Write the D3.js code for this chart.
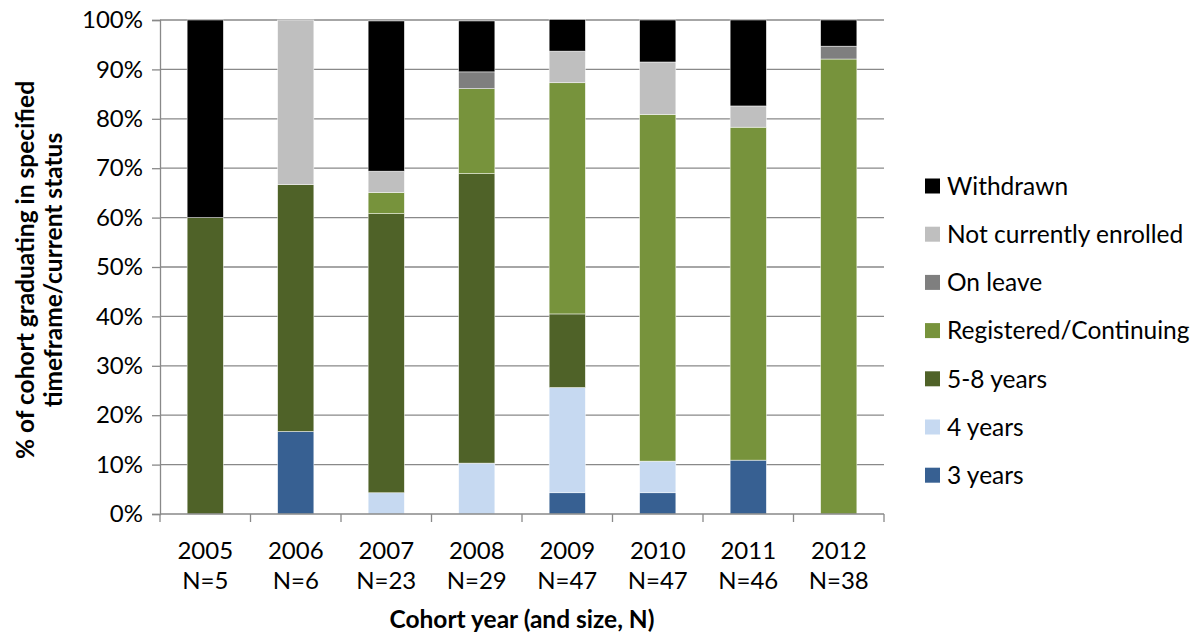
<!DOCTYPE html>
<html>
<head>
<meta charset="utf-8">
<script src="https://cdn.jsdelivr.net/npm/d3@7"></script>
<style>
  html, body { margin: 0; padding: 0; background: #fff; }
  svg { display: block; font-family: Lato, "Open Sans", sans-serif; }
</style>
</head>
<body>
<svg id="chart" width="1200" height="638"></svg>
<script>
// Cohort years and sizes
const cohorts = ["2005", "2006", "2007", "2008", "2009", "2010", "2011", "2012"];
const cohortSizes = ["N=5", "N=6", "N=23", "N=29", "N=47", "N=47", "N=46", "N=38"];

// Status series (stack order bottom to top), percent of cohort
const seriesNames = ["3 years", "4 years", "5-8 years", "Registered/Continuing", "On leave", "Not currently enrolled", "Withdrawn"];
const seriesColors = ["#376092", "#C6D9F1", "#4F6228", "#77933C", "#7F7F7F", "#BFBFBF", "#000000"];

const threeYears      = [0, 16.7, 0, 0, 4.3, 4.3, 10.9, 0];
const fourYears       = [0, 0, 4.3, 10.3, 21.3, 6.4, 0, 0];
const fiveToEight     = [60, 50, 56.5, 58.6, 14.9, 0, 0, 0];
const registered      = [0, 0, 4.3, 17.2, 46.8, 70.2, 67.4, 92.1];
const onLeave         = [0, 0, 0, 3.4, 0, 0, 0, 2.6];
const notEnrolled     = [0, 33.3, 4.3, 0, 6.4, 10.6, 4.3, 0];
const withdrawn       = [40, 0, 30.4, 10.3, 6.4, 8.5, 17.4, 5.3];

const yTicks = [0, 10, 20, 30, 40, 50, 60, 70, 80, 90, 100];

const seriesValues = [threeYears, fourYears, fiveToEight, registered, onLeave, notEnrolled, withdrawn];

const rows = cohorts.map((c, i) => {
  const r = { cohort: c };
  seriesNames.forEach((s, j) => { r[s] = seriesValues[j][i]; });
  return r;
});

const svg = d3.select("#chart");
const margin = { left: 160, right: 316, top: 20, bottom: 124 };
const W = 1200, H = 638;
const plotW = W - margin.left - margin.right;
const plotH = H - margin.top - margin.bottom;

const x = d3.scaleBand().domain(cohorts).range([margin.left, margin.left + plotW]).paddingInner(0.6).paddingOuter(0.3);
const xOuter = d3.scaleBand().domain(cohorts).range([margin.left, margin.left + plotW]);
const y = d3.scaleLinear().domain([0, 100]).range([margin.top + plotH, margin.top]);

const gridColor = "#898989";
const tickFont = 24;

// Horizontal gridlines
svg.append("g")
  .selectAll("line")
  .data(yTicks.filter(t => t > 0))
  .join("line")
  .attr("x1", margin.left).attr("x2", margin.left + plotW)
  .attr("y1", d => y(d)).attr("y2", d => y(d))
  .attr("stroke", gridColor).attr("stroke-width", 1.3);

// Stacked bars
const stack = d3.stack().keys(seriesNames);
const layers = stack(rows);

svg.append("g")
  .selectAll("g")
  .data(layers)
  .join("g")
  .attr("fill", (d, i) => seriesColors[i])
  .selectAll("rect")
  .data(d => d)
  .join("rect")
  .attr("x", d => x(d.data.cohort))
  .attr("width", x.bandwidth())
  .attr("y", d => y(d[1]))
  .attr("height", d => Math.max(0, y(d[0]) - y(d[1])))
  .attr("stroke", "#ffffff")
  .attr("stroke-width", d => (d[1] - d[0]) > 0 ? 0.6 : 0)
  .attr("stroke-opacity", 0.8);

// Y axis
const yAxis = d3.axisLeft(y)
  .tickValues(yTicks)
  .tickFormat(d => d + "%")
  .tickSize(8)
  .tickPadding(9);

const gy = svg.append("g")
  .attr("transform", `translate(${margin.left},0)`)
  .call(yAxis);
gy.select(".domain").attr("stroke", gridColor).attr("stroke-width", 1.3);
gy.selectAll(".tick line").attr("stroke", gridColor).attr("stroke-width", 1.3);
gy.selectAll(".tick text")
  .attr("font-size", tickFont).attr("fill", "#000")
  .attr("font-family", "Lato, sans-serif");

// X axis line and category boundary ticks
const xBase = y(0);
svg.append("line")
  .attr("x1", margin.left).attr("x2", margin.left + plotW)
  .attr("y1", xBase).attr("y2", xBase)
  .attr("stroke", gridColor).attr("stroke-width", 1.3);

const boundaries = cohorts.map(c => xOuter(c)).concat([margin.left + plotW]);
svg.append("g")
  .selectAll("line")
  .data(boundaries)
  .join("line")
  .attr("x1", d => d).attr("x2", d => d)
  .attr("y1", xBase).attr("y2", xBase + 8)
  .attr("stroke", gridColor).attr("stroke-width", 1.3);

// Category labels: year and cohort size
const catLabels = svg.append("g")
  .selectAll("text")
  .data(cohorts)
  .join("text")
  .attr("x", d => x(d) + x.bandwidth() / 2)
  .attr("text-anchor", "middle")
  .attr("font-size", tickFont)
  .attr("fill", "#000");
catLabels.append("tspan").attr("x", d => x(d) + x.bandwidth() / 2).attr("y", 559).text(d => d);
catLabels.append("tspan").attr("x", d => x(d) + x.bandwidth() / 2).attr("y", 589).text((d, i) => cohortSizes[i]);

// Axis titles
svg.append("text")
  .attr("x", margin.left + plotW / 2)
  .attr("y", 628)
  .attr("text-anchor", "middle")
  .attr("font-size", 24.5)
  .attr("font-weight", "bold")
  .text("Cohort year (and size, N)");

const yTitle = svg.append("text")
  .attr("transform", "translate(0,270) rotate(-90)")
  .attr("text-anchor", "middle")
  .attr("font-size", 24.5)
  .attr("font-weight", "bold");
yTitle.append("tspan").attr("x", 0).attr("y", 34).text("% of cohort graduating in specified");
yTitle.append("tspan").attr("x", 0).attr("y", 62).text("timeframe/current status");

// Legend (top entry is the top of the stack)
const legendOrder = seriesNames.map((s, i) => ({ name: s, color: seriesColors[i] })).reverse();
const legend = svg.append("g")
  .selectAll("g")
  .data(legendOrder)
  .join("g")
  .attr("transform", (d, i) => `translate(925, ${186 + i * 48.2})`);
legend.append("rect")
  .attr("x", 0).attr("y", -7.5)
  .attr("width", 15).attr("height", 15)
  .attr("fill", d => d.color);
legend.append("text")
  .attr("x", 22).attr("y", 0)
  .attr("dy", "0.36em")
  .attr("font-size", 24.5)
  .attr("fill", "#000")
  .text(d => d.name);
</script>
</body>
</html>
